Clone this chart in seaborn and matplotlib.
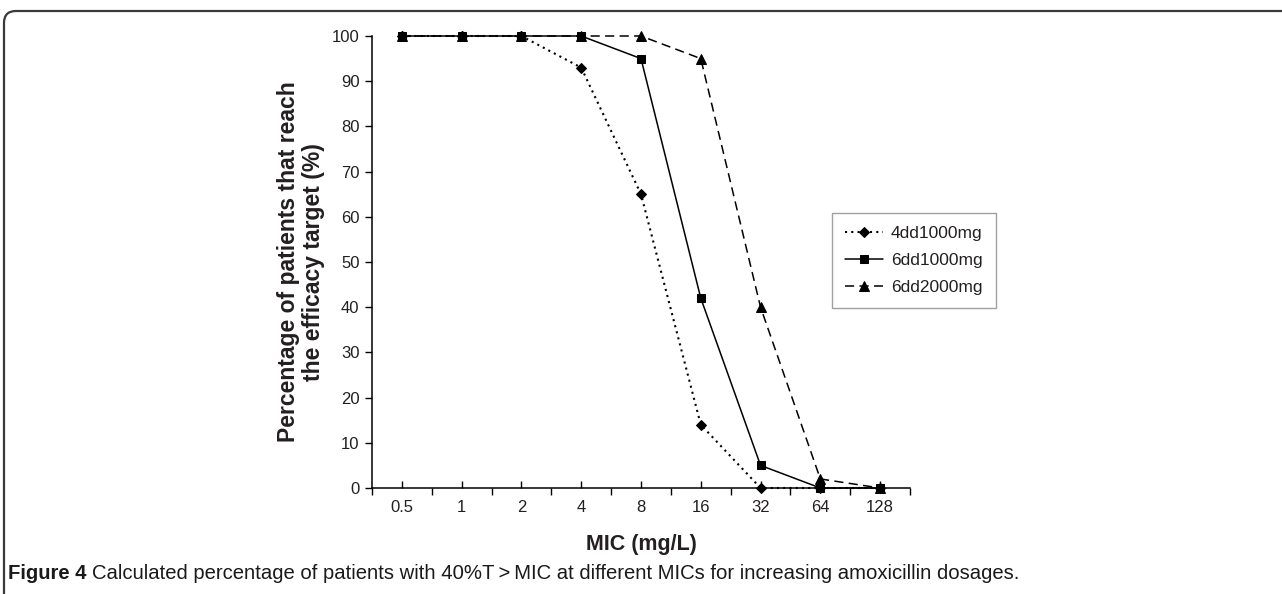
import matplotlib
matplotlib.use("Agg")
import matplotlib.pyplot as plt
import seaborn as sns
import numpy as np
import pandas as pd
from matplotlib.patches import FancyBboxPatch
from matplotlib.transforms import IdentityTransform

# MIC categories (mg/L) and percentage of patients reaching the 40%T > MIC target
mic_labels = ["0.5", "1", "2", "4", "8", "16", "32", "64", "128"]
dose_4dd1000 = [100, 100, 100, 93, 65, 14, 0, 0, 0]
dose_6dd1000 = [100, 100, 100, 100, 95, 42, 5, 0, 0]
dose_6dd2000 = [100, 100, 100, 100, 100, 95, 40, 2, 0]
series_names = ["4dd1000mg", "6dd1000mg", "6dd2000mg"]

sns.set_theme(style="white")
plt.rcParams["font.family"] = ["Liberation Sans", "DejaVu Sans"]

W, H = 1282, 594
fig = plt.figure(figsize=(W / 100, H / 100), dpi=100)
ax = fig.add_axes([372 / W, 1 - 488 / H, (910 - 372) / W, (488 - 36) / H])

pos = np.arange(len(mic_labels))
df = pd.DataFrame({
    "pos": np.tile(pos, 3),
    "pct": dose_4dd1000 + dose_6dd1000 + dose_6dd2000,
    "dose": np.repeat(series_names, len(mic_labels)),
})

styles = {
    "4dd1000mg": dict(linestyle=(0, (1, 2)), marker="D", markersize=4.8, linewidth=1.5),
    "6dd1000mg": dict(linestyle="-", marker="s", markersize=6.2, linewidth=1.1),
    "6dd2000mg": dict(linestyle=(0, (6, 3.5)), marker="^", markersize=7, linewidth=1.1),
}
for name in series_names:
    sub = df[df["dose"] == name]
    sns.lineplot(data=sub, x="pos", y="pct", ax=ax, color="black",
                 label=name, markeredgecolor="black", clip_on=False, **styles[name])

ax.set_xlim(-0.5, len(mic_labels) - 0.5)
ax.set_ylim(0, 100)
ax.set_yticks(np.arange(0, 101, 10))
ax.set_xticks(pos)
ax.set_xticklabels(mic_labels)
ax.set_xticks(np.arange(-0.5, len(mic_labels)), minor=True)

for side in ["top", "right"]:
    ax.spines[side].set_visible(False)
for side in ["left", "bottom"]:
    ax.spines[side].set_color("black")
    ax.spines[side].set_linewidth(1.1)

ax.tick_params(axis="y", direction="out", length=5, width=1, color="black",
               labelsize=12, labelcolor="#231f20", left=True, pad=4)
ax.tick_params(axis="x", which="major", direction="in", length=5, width=1,
               color="black", labelsize=12, labelcolor="#231f20", bottom=True, pad=9)
ax.tick_params(axis="x", which="minor", direction="out", length=5, width=1,
               color="black", bottom=True)

ax.set_xlabel("MIC (mg/L)", fontsize=15.5, fontweight="bold", color="#231f20", labelpad=13)
ax.set_ylabel("Percentage of patients that reach\nthe efficacy target (%)",
              fontsize=16.5, fontweight="bold", color="#231f20", labelpad=5, linespacing=1.1)

leg = ax.legend(loc="upper left", bbox_to_anchor=(832 / W, 1 - 213 / H),
                bbox_transform=fig.transFigure, borderaxespad=0, frameon=True,
                fancybox=False, fontsize=12.5, handlelength=2.2, handletextpad=0.45,
                labelspacing=0.68, borderpad=0.75)
leg.get_frame().set_edgecolor("#8a8a8a")
leg.get_frame().set_linewidth(1.0)
for t in leg.get_texts():
    t.set_color("#231f20")

# Outer panel border with a rounded top-left corner
frame = FancyBboxPatch((4, -40), W + 60, H - 11 + 40, boxstyle="round,pad=0,rounding_size=12",
                       transform=IdentityTransform(), fill=False, edgecolor="#3a3a3a",
                       linewidth=1.6, clip_on=False)
fig.add_artist(frame)

# Caption below the chart
cap_font = ["Liberation Sans Narrow", "Liberation Sans"]
cap_y = 1 - 579 / H
t1 = fig.text(8 / W, cap_y, "Figure 4", fontsize=14.6, fontweight="bold",
              family=cap_font, color="#1a1a1a", va="baseline")
fig.canvas.draw()
bb = t1.get_window_extent(renderer=fig.canvas.get_renderer())
fig.text((bb.x1 + 5) / W, cap_y,
         "Calculated percentage of patients with 40%T\u2009>\u2009MIC at different MICs for increasing amoxicillin dosages.",
         fontsize=14.6, family=cap_font, color="#1a1a1a", va="baseline")

fig.savefig("out.png", dpi=100)
